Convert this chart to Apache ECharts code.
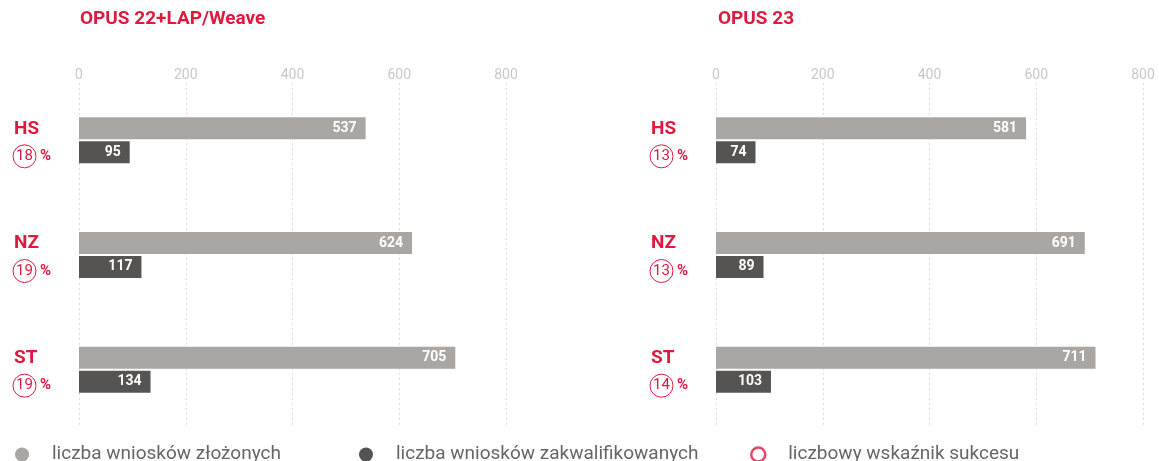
<!DOCTYPE html>
<html>
<head>
<meta charset="utf-8">
<script src="https://cdn.jsdelivr.net/npm/echarts@6/dist/echarts.min.js"></script>
<style>
  html, body { margin: 0; padding: 0; background: #fff; }
  #charts { width: 1159px; height: 461px; }
</style>
</head>
<body>
<div id="charts"></div>
<script>
var categories = ['HS', 'NZ', 'ST'];
var xTicks = [0, 200, 400, 600, 800];

var opus22Submitted = [537, 624, 705];
var opus22Qualified = [95, 117, 134];
var opus22Rate = [18, 19, 19];

var opus23Submitted = [581, 691, 711];
var opus23Qualified = [74, 89, 103];
var opus23Rate = [13, 13, 14];

var titles = ['OPUS 22+LAP/Weave', 'OPUS 23'];
var legendNames = ['liczba wniosków złożonych', 'liczba wniosków zakwalifikowanych', 'liczbowy wskaźnik sukcesu'];

var RED = '#e0193f';
var LIGHT = '#aaa6a3';
var DARK = '#555452';
var FONT = 'Roboto';

var charts = echarts.init(document.getElementById('charts'));

// y axis label: nazwa panelu + wskaznik w kolku
function yAxisFor(idx, rates) {
    return {
        type: 'category',
        gridIndex: idx,
        data: categories,
        inverse: true,
        axisLine: { show: false },
        axisTick: { show: false },
        axisLabel: {
            align: 'left',
            margin: 66,
            formatter: function (v, i) {
                return '{n|' + v + '}\n{c|' + rates[i] + '}{p|%}';
            },
            rich: {
                n: { fontFamily: FONT, fontSize: 19, fontWeight: 'bold', color: RED, lineHeight: 32, padding: [0, 0, 0, 1] },
                c: { fontFamily: FONT, fontSize: 15, color: RED, width: 23, height: 23, lineHeight: 23, align: 'center',
                     borderColor: RED, borderWidth: 1, borderRadius: 13 },
                p: { fontFamily: FONT, fontSize: 15, fontWeight: 'bold', color: RED, padding: [0, 0, 0, 4] }
            }
        }
    };
}

function xAxisFor(idx) {
    return {
        type: 'value',
        gridIndex: idx,
        position: 'top',
        min: xTicks[0],
        max: xTicks[xTicks.length - 1],
        interval: xTicks[1] - xTicks[0],
        axisLine: { show: false },
        axisTick: { show: false },
        axisLabel: { color: '#c8c8c8', fontFamily: FONT, fontSize: 14, margin: 1 },
        splitLine: { lineStyle: { color: '#dcdcdc', type: [2, 3], width: 1 } }
    };
}

function barSeries(name, idx, data, color) {
    return {
        name: name,
        type: 'bar',
        xAxisIndex: idx,
        yAxisIndex: idx,
        data: data,
        barWidth: 22,
        barGap: '9%',
        itemStyle: { color: color },
        label: {
            show: true,
            position: 'insideRight',
            distance: 9,
            color: '#fff',
            fontFamily: FONT,
            fontSize: 14,
            fontWeight: 'bold'
        },
        silent: true
    };
}

var legendIcons = [
    { name: legendNames[0], icon: 'circle', itemStyle: { color: LIGHT } },
    { name: legendNames[1], icon: 'circle', itemStyle: { color: DARK } },
    { name: legendNames[2], icon: 'circle', itemStyle: { color: '#fff', borderColor: RED, borderWidth: 2.5 } }
];
var legendLeft = [15, 359, 750];

var option = {
    animation: false,
    backgroundColor: '#fff',
    title: [
        { text: titles[0], left: 80, top: 10, padding: 0, textStyle: { color: RED, fontFamily: FONT, fontSize: 19, fontWeight: 'bold' } },
        { text: titles[1], left: 718, top: 10, padding: 0, textStyle: { color: RED, fontFamily: FONT, fontSize: 19, fontWeight: 'bold' } }
    ],
    legend: legendIcons.map(function (d, i) {
        return {
            data: [d],
            left: legendLeft[i],
            top: 445,
            padding: 0,
            itemWidth: 14,
            itemHeight: 14,
            selectedMode: false,
            textStyle: { color: '#666', fontFamily: FONT, fontSize: 19, padding: [0, 0, 0, 18] }
        };
    }),
    grid: [
        { left: 79, width: 427, top: 83, height: 344 },
        { left: 716, width: 427, top: 83, height: 344 }
    ],
    xAxis: [xAxisFor(0), xAxisFor(1)],
    yAxis: [yAxisFor(0, opus22Rate), yAxisFor(1, opus23Rate)],
    series: [
        barSeries(legendNames[0], 0, opus22Submitted, LIGHT),
        barSeries(legendNames[1], 0, opus22Qualified, DARK),
        barSeries(legendNames[0], 1, opus23Submitted, LIGHT),
        barSeries(legendNames[1], 1, opus23Qualified, DARK),
        // tylko dla legendy
        { name: legendNames[2], type: 'scatter', xAxisIndex: 0, yAxisIndex: 0, data: [],
          itemStyle: { color: '#fff', borderColor: RED, borderWidth: 2.5 } }
    ]
};

charts.setOption(option);
</script>
</body>
</html>
